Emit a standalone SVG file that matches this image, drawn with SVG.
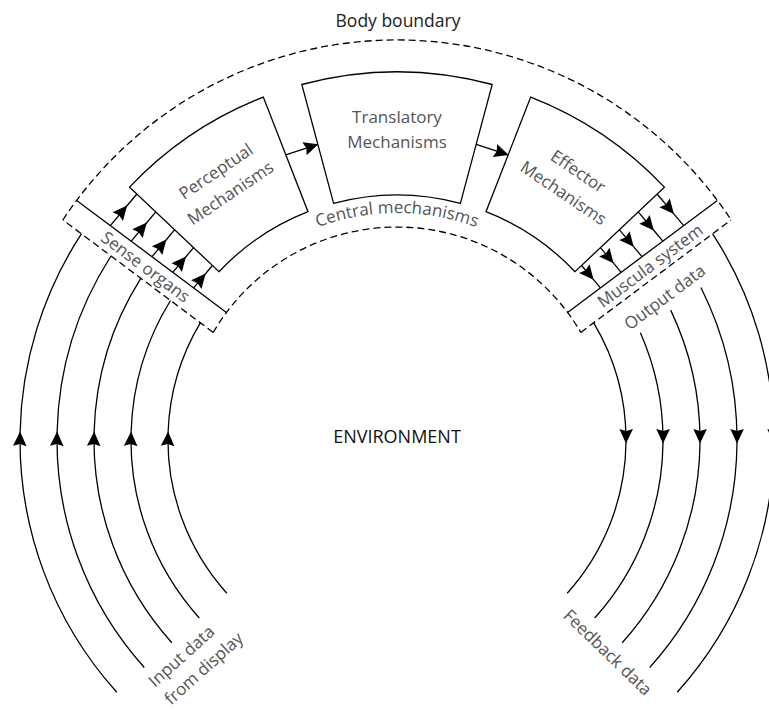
<svg xmlns="http://www.w3.org/2000/svg" width="769" height="713" viewBox="0 0 769 713">
<style>
.ln{fill:none;stroke:#000;stroke-width:1.3}
.ds{fill:none;stroke:#000;stroke-width:1.3;stroke-dasharray:7 4}
.bx{fill:#fff;stroke:#000;stroke-width:1.3}
.ar{fill:none;stroke:#000;stroke-width:1.3;marker-mid:url(#ah)}
.ae{fill:none;stroke:#000;stroke-width:1.3;marker-end:url(#ah)}
.t{font-family:"Open Sans","Noto Sans",sans-serif;font-size:17px;fill:#555;text-anchor:middle}
.tl{font-family:"Open Sans","Noto Sans",sans-serif;font-size:17px;fill:#555}
.tb{font-family:"Open Sans","Noto Sans",sans-serif;font-size:17.5px;fill:#222;text-anchor:middle}
</style>
<defs>
<marker id="ah" viewBox="-15 -8 16 16" refX="0" refY="0" markerWidth="16" markerHeight="16" orient="auto" markerUnits="userSpaceOnUse">
<path d="M0.5,0 L-14,-6.8 L-12,0 L-14,6.8 Z" fill="#000"/>
</marker>
<path id="cmPath" d="M -145.9 -173.9 A 227 227 0 0 1 145.9 -173.9"/>
</defs>

<g id="body-boundary">
<path class="ds" transform="translate(397,440)" d="M -334.1 -220 A 400 400 0 0 1 334.1 -220"/>
<text class="tb" x="398" y="27">Body boundary</text>
</g>

<g id="central-mechanisms" transform="translate(397,440)">
<path class="ds" d="M -183.8 -107.6 A 213 213 0 0 1 183.8 -107.6"/>
<text class="t"><textPath href="#cmPath" startOffset="50%">Central mechanisms</textPath></text>
</g>

<g id="perceptual" transform="translate(397,440)">
<path class="bx" d="M -267.4 -252.9 A 368 368 0 0 1 -133.7 -342.9 L -89.0 -228.3 A 245 245 0 0 0 -178.0 -168.3 Z"/>
<text class="t" transform="rotate(-34)"><tspan x="0" y="-318">Perceptual</tspan><tspan x="0" y="-292">Mechanisms</tspan></text>
</g>

<g id="translatory" transform="translate(397,440)">
<path class="bx" d="M -95.2 -355.5 A 368 368 0 0 1 95.2 -355.5 L 63.4 -236.7 A 245 245 0 0 0 -63.4 -236.7 Z"/>
<text class="t"><tspan x="0" y="-317">Translatory</tspan><tspan x="0" y="-292">Mechanisms</tspan></text>
</g>

<g id="effector" transform="translate(397,440)">
<path class="bx" d="M 133.7 -342.9 A 368 368 0 0 1 267.4 -252.9 L 178.0 -168.3 A 245 245 0 0 0 89.0 -228.3 Z"/>
<text class="t" transform="rotate(34)"><tspan x="0" y="-318">Effector</tspan><tspan x="0" y="-292">Mechanisms</tspan></text>
</g>

<g id="sense-organs">
<path class="ln" transform="translate(397,440)" d="M -170.6 -127.6 L -320.3 -239.6"/>
<path class="ds" transform="translate(397,440)" d="M -183.8 -107.6 L -334.1 -220.0"/>
<text class="t" transform="translate(142,271.7) rotate(36.8)">Sense organs</text>
</g>

<g id="muscula-system">
<path class="ln" transform="translate(397,440)" d="M 170.6 -127.6 L 320.3 -239.6"/>
<path class="ds" transform="translate(397,440)" d="M 183.8 -107.6 L 334.1 -220.0"/>
<text class="t" transform="translate(653.6,270.5) rotate(-36.8)">Muscula system</text>
</g>

<g id="environment">
<text class="tb" x="397" y="443" style="fill:#111;font-size:18px">ENVIRONMENT</text>
</g>

<g id="input-data">
<text class="tl" transform="translate(155,688) rotate(-42)"><tspan x="0" y="0">Input data</tspan><tspan x="0" y="24">from display</tspan></text>
</g>

<g id="output-data">
<text class="t" transform="translate(668.3,301.9) rotate(-36.8)">Output data</text>
</g>

<g id="feedback-data">
<text class="t" transform="translate(603.5,656.6) rotate(44)">Feedback data</text>
</g>

<g id="connectors" transform="translate(397,440)">
<path class="ar" d="M -170.2 153.2 A 229 229 0 0 1 -228.9 -8 A 229 229 0 0 1 -196.7 -117.2"/>
<path class="ar" d="M -197.7 178.0 A 266 266 0 0 1 -265.9 -8 A 266 266 0 0 1 -226.5 -139.5"/>
<path class="ar" d="M -225.2 202.7 A 303 303 0 0 1 -302.9 -8 A 303 303 0 0 1 -256.2 -161.7"/>
<path class="ar" d="M -252.7 227.5 A 340 340 0 0 1 -339.9 -8 A 340 340 0 0 1 -286.0 -184.0"/>
<path class="ar" d="M -280.2 252.3 A 377 377 0 0 1 -376.9 -8 A 377 377 0 0 1 -315.6 -206.1"/>

<path class="ar" d="M 196.7 -117.2 A 229 229 0 0 1 229 3 A 229 229 0 0 1 170.2 153.2"/>
<path class="ar" d="M 243.4 -107.2 A 266 266 0 0 1 266 3 A 266 266 0 0 1 197.7 178.0"/>
<path class="ar" d="M 273.7 -129.9 A 303 303 0 0 1 303 3 A 303 303 0 0 1 225.2 202.7"/>
<path class="ar" d="M 303.9 -152.5 A 340 340 0 0 1 340 3 A 340 340 0 0 1 252.7 227.5"/>
<path class="ar" d="M 315.6 -206.1 A 377 377 0 0 1 377 3 A 377 377 0 0 1 280.2 252.3"/>

<path class="ar" d="M -286.7 -214.4 L -270.2 -234.0 L -260.1 -246.0"/>
<path class="ar" d="M -265.8 -198.9 L -250.5 -217.0 L -241.2 -228.1"/>
<path class="ar" d="M -245.0 -183.3 L -230.9 -200.0 L -222.3 -210.3"/>
<path class="ar" d="M -224.2 -167.7 L -211.3 -183.0 L -203.4 -192.4"/>
<path class="ar" d="M -203.4 -152.1 L -191.7 -166.0 L -184.6 -174.5"/>

<path class="ar" d="M 260.1 -246.0 L 276.6 -226.4 L 286.7 -214.4"/>
<path class="ar" d="M 241.2 -228.1 L 256.5 -210.0 L 265.8 -198.9"/>
<path class="ar" d="M 222.3 -210.3 L 236.4 -193.6 L 245.0 -183.3"/>
<path class="ar" d="M 203.4 -192.4 L 216.3 -177.1 L 224.2 -167.7"/>
<path class="ar" d="M 184.6 -174.5 L 196.3 -160.6 L 203.4 -152.1"/>

<path class="ae" d="M -111.2 -285.1 L -79.2 -295.6"/>
<path class="ae" d="M 79.2 -295.6 L 111.2 -285.1"/>
</g>
</svg>
